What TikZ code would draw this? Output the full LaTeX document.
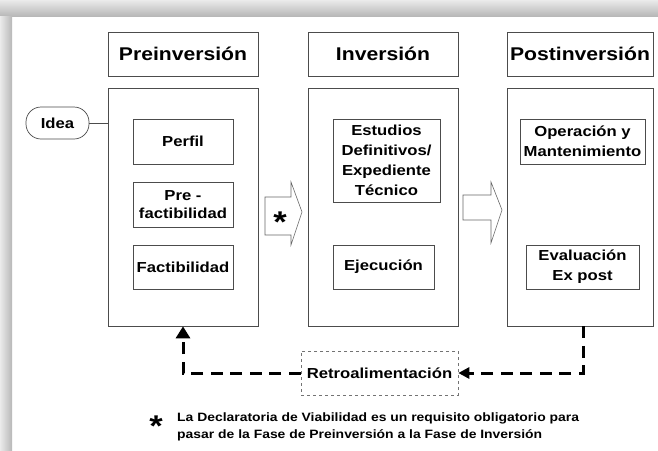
\documentclass[tikz,border=0pt]{standalone}
\usepackage{fontspec}
\setmainfont{Liberation Sans}[FakeStretch=1.15]
\usetikzlibrary{arrows.meta}
\begin{document}
\begin{tikzpicture}[x=1pt,y=-1pt,
  box/.style={draw=black!70,line width=0.7pt,fill=white,inner sep=2pt,align=center},
  head/.style={box,minimum width=150pt,minimum height=44pt,font=\fontsize{18.4}{22}\selectfont\bfseries},
  big/.style={box,minimum width=150pt,minimum height=238pt},
  inner/.style={box,font=\fontsize{14.5}{20}\selectfont\bfseries},
  blockarrow/.style={draw=black!60,line width=0.6pt,fill=white},
  fb/.style={line width=3pt,dash pattern=on 12pt off 7.5pt},
  notetext/.style={anchor=base west,inner sep=0pt,font=\fontsize{12.1}{14}\selectfont\bfseries},
  starsym/.style={font=\fontsize{30}{30}\selectfont\bfseries,inner sep=0pt},
]
\useasboundingbox (0,0) rectangle (658,450);
\fill[white] (0,0) rectangle (658,450);
% shadow frame
\shade[top color=black!8,bottom color=black!28] (0,0) rectangle (658,16);
\shade[left color=black!8,right color=black!28] (0,16) rectangle (12,450);

% phase headers
\node[head] (h1) at (183,54) {Preinversión};
\node[head] (h2) at (383,54) {Inversión};
\node[head,minimum width=146pt] (h3) at (580,54) {Postinversión};

% phase bodies
\node[big] (b1) at (183,207) {};
\node[big] (b2) at (383,207) {};
\node[big,minimum width=146pt] (b3) at (580,207) {};

% idea
\node[inner,rounded corners=15pt,minimum width=63pt,minimum height=32pt] (idea) at (57.5,123) {Idea};
\draw[draw=black!70,line width=0.7pt] (idea.east) -- (idea.east -| b1.west);

% inner boxes
\node[inner,minimum width=100pt,minimum height=45pt] (perfil) at (183,141.5) {Perfil};
\node[inner,minimum width=100pt,minimum height=45pt,font=\fontsize{14.5}{18}\selectfont\bfseries] (pref) at (183,204.5) {Pre -\\factibilidad};
\node[inner,minimum width=100pt,minimum height=44pt] (fact) at (183,267) {Factibilidad};
\node[inner,minimum width=107pt,minimum height=83pt] (est) at (386.5,160.5) {Estudios\\Definitivos/\\Expediente\\Técnico};
\node[inner,minimum width=101pt,minimum height=44pt] (eje) at (383.5,267) {Ejecución};
\node[inner,minimum width=125pt,minimum height=45pt] (ope) at (582.5,141.5) {Operación y\\Mantenimiento};
\node[inner,minimum width=113pt,minimum height=44pt] (eva) at (582.5,267) {Evaluación\\Ex post};

% block arrows
\draw[blockarrow] (265,197) -- (291,197) -- (291,182) -- (302,212) -- (291,245) -- (291,235) -- (265,235) -- cycle;
\node[starsym] (star1) at (280,222) {*};
\draw[blockarrow] (463,195) -- (491,195) -- (491,182) -- (502,210) -- (491,243) -- (491,220) -- (463,220) -- cycle;

% feedback
\node[inner,draw=black!55,line width=0.6pt,dashed,minimum width=157pt,minimum height=44pt] (retro) at (379.5,373) {Retroalimentación};
\draw[fb,-{Triangle[length=11pt,width=11pt]}] ([xshift=3pt]b3.south) |- (retro.east);
\draw[fb,-{Triangle[length=12pt,width=14pt]}] (retro.west) -| (b1.south);

% footnote
\node[starsym] (star2) at (156,426) {*};
\node[notetext] (note1) at (177,421) {La Declaratoria de Viabilidad es un requisito obligatorio para};
\node[notetext] (note2) at (177,438.5) {pasar de la Fase de Preinversión a la Fase de Inversión};
\end{tikzpicture}
\end{document}
